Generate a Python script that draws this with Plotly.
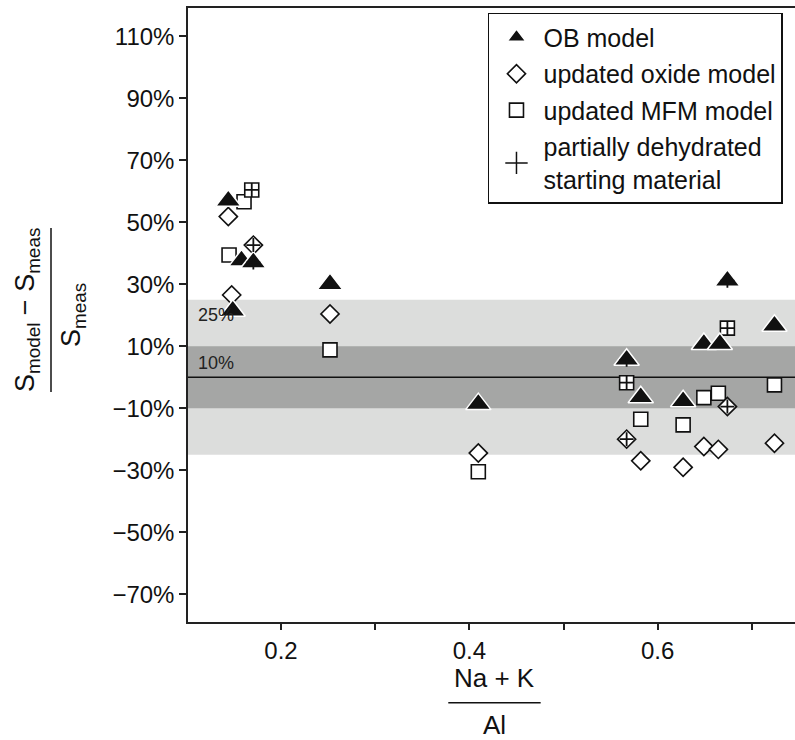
import plotly.graph_objects as go

# ---- data (fractions) ----
ob_x = [0.144, 0.158, 0.1706, 0.1487, 0.252, 0.4095, 0.567, 0.582, 0.627, 0.649, 0.666, 0.674, 0.724]
ob_y = [0.569, 0.376, 0.370, 0.214, 0.300, -0.087, 0.056, -0.065, -0.078, 0.107, 0.107, 0.311, 0.166]
ob_dehyd = [0, 0, 1, 0, 0, 0, 1, 0, 0, 0, 0, 1, 0]

oxide_x = [0.144, 0.1476, 0.1706, 0.252, 0.4095, 0.567, 0.582, 0.627, 0.649, 0.6644, 0.674, 0.724]
oxide_y = [0.518, 0.265, 0.426, 0.204, -0.245, -0.200, -0.270, -0.291, -0.224, -0.233, -0.095, -0.213]
oxide_dehyd = [0, 0, 1, 0, 0, 1, 0, 0, 0, 0, 1, 0]

mfm_x = [0.1448, 0.1607, 0.1689, 0.252, 0.4095, 0.567, 0.582, 0.627, 0.649, 0.6644, 0.674, 0.724]
mfm_y = [0.394, 0.566, 0.604, 0.088, -0.305, -0.018, -0.136, -0.154, -0.066, -0.052, 0.158, -0.025]
mfm_dehyd = [0, 0, 1, 0, 0, 1, 0, 0, 0, 0, 1, 0]

y_ticks = [-0.7, -0.5, -0.3, -0.1, 0.1, 0.3, 0.5, 0.7, 0.9, 1.1]
x_ticks = [0.2, 0.4, 0.6]
x_tick_labels = ["0.2", "0.4", "0.6"]
x_minor_ticks = [0.3, 0.5, 0.7]

band_outer = 0.25
band_inner = 0.10

names = ["OB model", "updated oxide model", "updated MFM model",
         "partially dehydrated<br>starting material"]

FONT = "Liberation Sans, Arial, Helvetica, sans-serif"

# dehydrated markers (subset of the model points)
dx, dy = [], []
for xs, ys, fl in [(mfm_x, mfm_y, mfm_dehyd), (oxide_x, oxide_y, oxide_dehyd), (ob_x, ob_y, ob_dehyd)]:
    for a, b, f in zip(xs, ys, fl):
        if f:
            dx.append(a)
            dy.append(b)

fig = go.Figure()

fig.add_trace(go.Scatter(
    x=mfm_x, y=mfm_y, mode="markers", name=names[2], legendrank=3, legendgroup="c",
    marker=dict(symbol="square", size=14, color="white", line=dict(color="#111", width=1.6))))
fig.add_trace(go.Scatter(
    x=oxide_x, y=oxide_y, mode="markers", name=names[1], legendrank=2, legendgroup="b",
    marker=dict(symbol="diamond", size=14, color="white", line=dict(color="#111", width=1.6))))
fig.add_trace(go.Scatter(
    x=ob_x, y=ob_y, mode="markers", name=names[0], legendrank=1, legendgroup="a",
    marker=dict(symbol="triangle-up", size=22, color="#111", line=dict(color="white", width=1.5))))
fig.add_trace(go.Scatter(
    x=dx, y=dy, mode="markers", name=names[3], showlegend=False, legendgroup="d",
    marker=dict(symbol="cross-thin", size=10, color="#111", line=dict(color="#111", width=1.8))))
# legend entry for the dehydrated marker (larger symbol, as in the reference legend)
fig.add_trace(go.Scatter(
    x=[None], y=[None], mode="markers", name=names[3], legendrank=4, legendgroup="d",
    marker=dict(symbol="cross-thin", size=16, color="#111", line=dict(color="#111", width=1.5))))

# tolerance bands
fig.add_shape(type="rect", xref="paper", x0=0, x1=1, yref="y", y0=-band_outer, y1=band_outer,
              fillcolor="#dcdddc", line_width=0, layer="below")
fig.add_shape(type="rect", xref="paper", x0=0, x1=1, yref="y", y0=-band_inner, y1=band_inner,
              fillcolor="#a5a6a5", line_width=0, layer="below")
fig.add_shape(type="line", xref="paper", x0=0, x1=1, yref="y", y0=0, y1=0,
              line=dict(color="#111", width=1.5), layer="below")

fig.add_annotation(x=0.1092, y=0.20, xref="x", yref="y", text="25%", showarrow=False,
                   xanchor="left", yanchor="middle", font=dict(size=18, color="#222", family=FONT))
fig.add_annotation(x=0.1092, y=0.047, xref="x", yref="y", text="10%", showarrow=False,
                   xanchor="left", yanchor="middle", font=dict(size=18, color="#222", family=FONT))

# x-axis title as fraction
fig.add_annotation(x=0.5053, y=-0.0904, xref="paper", yref="paper", text="Na + K", showarrow=False,
                   xanchor="center", yanchor="middle", font=dict(size=26, color="#111", family=FONT))
fig.add_shape(type="line", xref="paper", yref="paper", x0=0.4288, x1=0.581, y0=-0.1314, y1=-0.1314,
              line=dict(color="#111", width=1.5))
fig.add_annotation(x=0.5053, y=-0.1673, xref="paper", yref="paper", text="Al", showarrow=False,
                   xanchor="center", yanchor="middle", font=dict(size=26, color="#111", family=FONT))

# y-axis title as fraction
fig.add_annotation(x=-0.2652, y=0.508, xref="paper", yref="paper",
                   text="S<sub>model</sub> − S<sub>meas</sub>", textangle=-90, showarrow=False,
                   xanchor="center", yanchor="middle", font=dict(size=27, color="#111", family=FONT))
fig.add_shape(type="line", xref="paper", yref="paper", x0=-0.2257, x1=-0.2257, y0=0.3746, y1=0.6417,
              line=dict(color="#111", width=1.5))
fig.add_annotation(x=-0.1895, y=0.50, xref="paper", yref="paper",
                   text="S<sub>meas</sub>", textangle=-90, showarrow=False,
                   xanchor="center", yanchor="middle", font=dict(size=27, color="#111", family=FONT))

fig.update_layout(
    width=795, height=740,
    margin=dict(l=188, r=0, t=8, b=118),
    paper_bgcolor="white", plot_bgcolor="white",
    font=dict(family=FONT, size=24, color="#111"),
    showlegend=True,
    legend=dict(x=0.4942, y=0.992, xanchor="left", yanchor="top",
                bgcolor="white", bordercolor="#111", borderwidth=1.5,
                font=dict(size=25, family=FONT, color="#111"),
                tracegroupgap=1, itemwidth=44),
    xaxis=dict(range=[0.1012, 0.7458], tickvals=x_ticks, ticktext=x_tick_labels,
               showgrid=False, zeroline=False, showline=True, linecolor="#222", linewidth=1.5,
               mirror=True, ticks="outside", ticklen=6, tickwidth=2, tickcolor="#222",
               minor=dict(tickvals=x_minor_ticks, ticks="outside", ticklen=6, tickwidth=2,
                          tickcolor="#222", showgrid=False),
               tickfont=dict(size=24, family=FONT, color="#111")),
    yaxis=dict(range=[-0.790, 1.191], tickvals=y_ticks, tickformat=".0%",
               showgrid=False, zeroline=False, showline=True, linecolor="#222", linewidth=1.5,
               ticks="outside", ticklen=7, tickwidth=2, tickcolor="#222",
               tickfont=dict(size=24, family=FONT, color="#111")),
)

fig.write_html("out.html")
